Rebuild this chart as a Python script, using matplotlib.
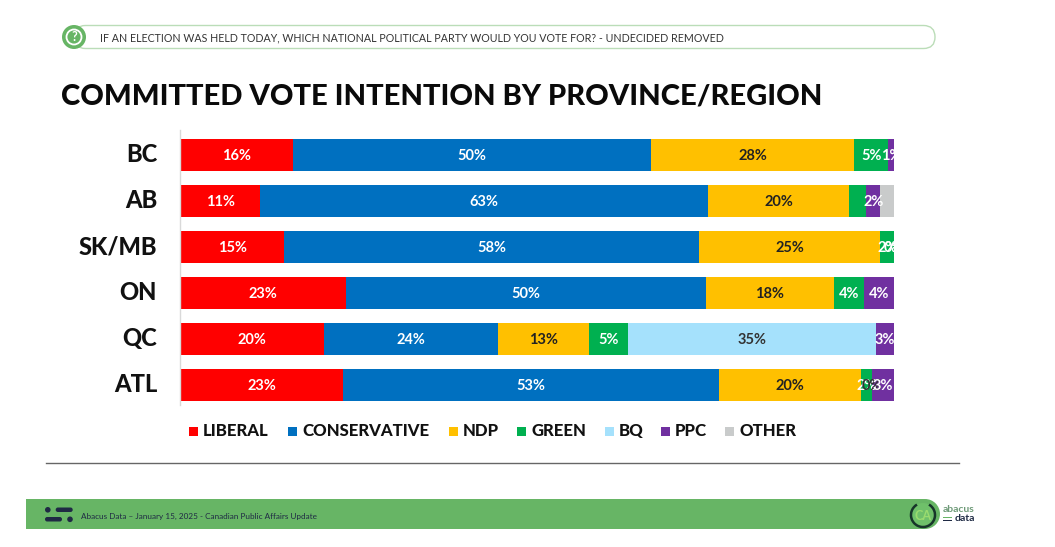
import matplotlib
matplotlib.use("Agg")
import matplotlib.pyplot as plt
from matplotlib.patches import FancyBboxPatch, Circle, Rectangle, Arc
from matplotlib.transforms import ScaledTranslation

plt.rcParams['font.family'] = ['Lato', 'DejaVu Sans']

regions = ["BC", "AB", "SK/MB", "ON", "QC", "ATL"]
parties = ["LIBERAL", "CONSERVATIVE", "NDP", "GREEN", "BQ", "PPC", "OTHER"]
liberal = [15.7, 11.1, 14.5, 23.1, 20.0, 22.7]
conservative = [50.2, 62.8, 58.2, 50.5, 24.4, 52.7]
ndp = [28.5, 19.8, 25.4, 18.0, 12.8, 20.0]
green = [4.8, 2.4, 1.9, 4.2, 5.5, 1.5]
bq = [0, 0, 0, 0, 34.8, 0]
ppc = [0.8, 2.0, 0, 4.2, 2.5, 3.1]
other = [0, 1.9, 0, 0, 0, 0]
series = [liberal, conservative, ndp, green, bq, ppc, other]

liberal_lbl = ["16%", "11%", "15%", "23%", "20%", "23%"]
conservative_lbl = ["50%", "63%", "58%", "50%", "24%", "53%"]
ndp_lbl = ["28%", "20%", "25%", "18%", "13%", "20%"]
green_lbl = ["5%", "", "2%", "4%", "5%", "2%"]
bq_lbl = ["", "", "", "", "35%", "0%"]
ppc_lbl = ["1%", "2%", "0%", "4%", "3%", "3%"]
other_lbl = ["", "", "", "", "", ""]
labels = [liberal_lbl, conservative_lbl, ndp_lbl, green_lbl, bq_lbl, ppc_lbl, other_lbl]

colors = ["#FF0000", "#0070C0", "#FFC000", "#00B050", "#A5E1FC", "#7030A0", "#C9CBCB"]
label_colors = ["white", "white", "#222222", "white", "#333333", "white", "#222222"]

title = "COMMITTED VOTE INTENTION BY PROVINCE/REGION"
question = "IF AN ELECTION WAS HELD TODAY, WHICH NATIONAL POLITICAL PARTY WOULD YOU VOTE FOR? - UNDECIDED REMOVED"
footer = "Abacus Data – January 15, 2025 - Canadian Public Affairs Update"

W, H = 1055, 547
fig = plt.figure(figsize=(W / 100, H / 100), dpi=100, facecolor="white")

# page furniture in pixel coordinates
bg = fig.add_axes([0, 0, 1, 1])
bg.set_xlim(0, W)
bg.set_ylim(H, 0)
bg.axis("off")

bg.add_patch(FancyBboxPatch((74, 25.5), 861, 23, boxstyle="round,pad=0,rounding_size=11.5",
                            fc="white", ec="#BBDDB8", lw=1.0))
bg.add_patch(Circle((74, 37), 12, fc="#67B565", ec="none"))
bg.add_patch(Circle((74, 37), 7.5, fc="none", ec="white", lw=1.3))
bg.text(74, 37.2, "?", color="white", fontsize=9, fontweight="bold", ha="center", va="center")
bg.text(100, 38, question, fontsize=7.66, color="#333333", va="center", ha="left")
bg.text(61, 97, title, fontsize=20.97, fontweight="black", color="#0a0a0a", va="center", ha="left")

bg.plot([46, 959], [462.5, 462.5], color="#666666", lw=1)

bg.add_patch(Rectangle((26, 499), 899, 30, fc="#67B565", ec="none"))
bg.add_patch(Circle((925, 514), 15, fc="#67B565", ec="none"))
bg.add_patch(Circle((47.8, 509.8), 2.8, fc="#1F2A44", ec="none"))
bg.add_patch(FancyBboxPatch((55.7, 507.5), 17, 4.5, boxstyle="round,pad=0,rounding_size=2.2", fc="#1F2A44", ec="none"))
bg.add_patch(FancyBboxPatch((45, 517), 17, 4.5, boxstyle="round,pad=0,rounding_size=2.2", fc="#1F2A44", ec="none"))
bg.add_patch(Circle((70, 519.3), 2.8, fc="#1F2A44", ec="none"))
bg.text(81, 516.5, footer, fontsize=5.9, color="#1F2A44", va="center", ha="left")
bg.add_patch(Circle((923, 515), 12, fc="#6FC06A", ec="none"))
bg.add_patch(Arc((923, 515), 24, 24, theta1=-60, theta2=240, color="#17352A", lw=1.8))
bg.text(923, 515.5, "CA", fontsize=9, fontweight="bold", color="#9ADB6F", ha="center", va="center")
bg.text(943, 510, "abacus", fontsize=7.5, fontweight="bold", color="#6E9A78", va="center", ha="left")
bg.text(955, 518.5, "data", fontsize=7.5, fontweight="bold", color="#1F2A44", va="center", ha="left")
bg.add_patch(Rectangle((943, 516.5), 9, 1.5, fc="#67B565", ec="none"))
bg.add_patch(Rectangle((943, 519.5), 9, 1.5, fc="#1F2A44", ec="none"))

# legend
swatch_x = [189, 288, 449, 517, 605, 661, 725]
for name, col, sx in zip(parties, colors, swatch_x):
    bg.add_patch(Rectangle((sx, 427), 8.5, 8.5, fc=col, ec="none"))
    bg.text(sx + 14, 430.5, name, fontsize=12.1, fontweight="black", color="#111111", va="center", ha="left")

# bars
ax = fig.add_axes([181 / W, 1 - 405 / H, 713 / W, 275 / H])
ax.patch.set_alpha(0)
for s in ["top", "right", "bottom"]:
    ax.spines[s].set_visible(False)
ax.spines["left"].set_position(("outward", 0.7))
ax.spines["left"].set_color("#D9D9D9")
ax.spines["left"].set_linewidth(1)

ypos = list(range(len(regions)))
left = [0.0] * len(regions)
for vals, lbls, col, lc in zip(series, labels, colors, label_colors):
    ax.barh(ypos, vals, left=left, height=0.69, color=col, edgecolor="none", zorder=2)
    for y, v, l, t in zip(ypos, vals, left, lbls):
        if t:
            ax.text(l + v / 2, y + 0.03, t, color=lc, fontsize=10.5, fontweight="bold",
                    ha="center", va="center", clip_on=True, zorder=3)
    left = [a + b for a, b in zip(left, vals)]

ax.set_xlim(0, 100)
ax.set_ylim(5.435, -0.543)
ax.set_xticks([])
ax.set_yticks(ypos)
ax.set_yticklabels(regions, fontsize=17, fontweight="black", color="#111111")
ax.tick_params(axis="y", length=0, pad=16.5)
up = ScaledTranslation(0, 2 / 100, fig.dpi_scale_trans)
for t in ax.get_yticklabels():
    t.set_transform(t.get_transform() + up)

fig.savefig("out.png", dpi=100, facecolor="white")
